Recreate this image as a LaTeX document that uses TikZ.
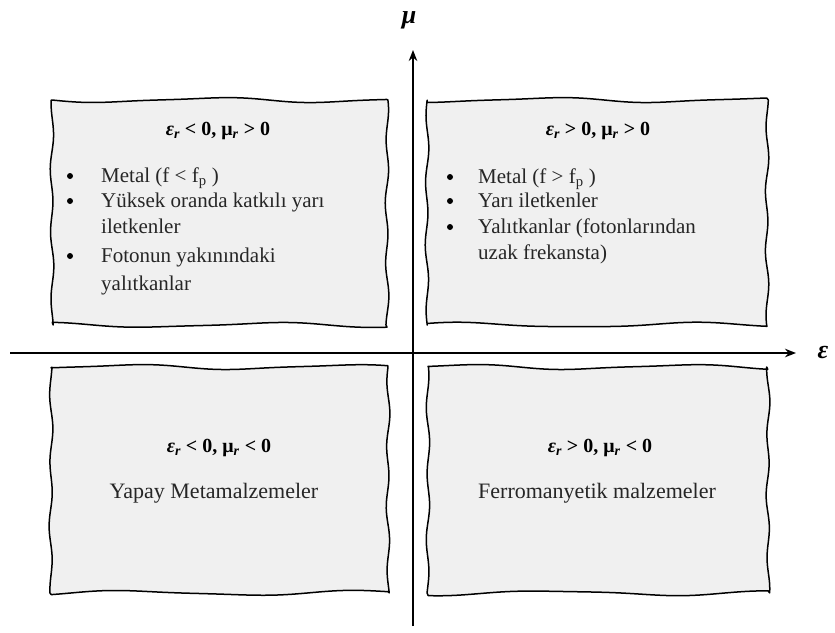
\documentclass[tikz,border=0pt]{standalone}
\usepackage{fontspec}
\setmainfont{Liberation Serif}
\usetikzlibrary{arrows.meta}
\definecolor{boxgray}{HTML}{F0F0F0}
\definecolor{txt}{HTML}{262626}
% wavy box: #1 x1, #2 y1, #3 x2, #4 y2, #5 phase
\newcommand\wavyquad[5]{%
  \draw[boxline]
    plot[domain=0:1,samples=60,smooth] ({#1+(#3-#1)*\x},{#2+2.2*sin(560*\x+#5)+0.6*sin(1100*\x+2*#5)})
    -- plot[domain=0:1,samples=60,smooth] ({#3+1.4*sin(1300*\x+#5+40)+0.5*sin(500*\x)},{#2+(#4-#2)*\x})
    -- plot[domain=0:1,samples=60,smooth] ({#3-(#3-#1)*\x},{#4+2.2*sin(520*\x+#5+90)+0.6*sin(1000*\x+#5)})
    -- plot[domain=0:1,samples=60,smooth] ({#1+1.4*sin(1250*\x+#5+120)+0.5*sin(450*\x+#5)},{#4-(#4-#2)*\x})
    -- cycle;}
\begin{document}
\begin{tikzpicture}[x=1pt,y=-1pt,
  boxline/.style={draw=black, line width=1.5pt, fill=boxgray, line join=round},
  ttl/.style={anchor=base, inner sep=0pt, font=\fontsize{20}{24}\selectfont\bfseries},
  ln/.style={anchor=base west, inner sep=0pt, text=txt, font=\fontsize{21}{25}\selectfont},
  ctr/.style={anchor=base, inner sep=0pt, text=txt, font=\fontsize{22}{26}\selectfont},
  bul/.style={circle, fill=black, inner sep=0pt, minimum size=6pt},
  axis/.style={line width=1.8pt, -{Stealth[length=11pt,width=8.5pt]}},
  albl/.style={inner sep=0pt, font=\fontsize{26}{30}\selectfont\bfseries\itshape}
]
\useasboundingbox (0,0) rectangle (835,632);

% boxes
\wavyquad{52}{100}{387}{325}{0}
\wavyquad{427}{100}{767}{325}{70}
\wavyquad{51}{367}{388}{593}{140}
\wavyquad{428}{367}{768}{593}{210}

% axes
\coordinate (xs) at (10,353);
\coordinate (xe) at (796,353);
\coordinate (ys) at (413,626);
\coordinate (ye) at (413,50);
\draw[axis] (xs) -- (xe);
\draw[axis] (ys) -- (ye);
\node[albl] (mu) at (409,20) {μ};
\node[albl] (eps) at (823,352) {ε};

% top-left
\node[ttl] (tlt) at (218,135) {\textit{ε\textsubscript{r}} < 0, μ\textsubscript{\textit{r}} > 0};
\node[bul] (tlb1) at (70,176) {};
\node[ln] (tl1) at (101,182) {Metal (f < f\textsubscript{p} )};
\node[bul] (tlb2) at (70,201) {};
\node[ln] (tl2) at (101,207) {Yüksek oranda katkılı yarı};
\node[ln] (tl3) at (101,233) {iletkenler};
\node[bul] (tlb3) at (70,256) {};
\node[ln] (tl4) at (101,262) {Fotonun yakınındaki};
\node[ln] (tl5) at (101,290) {yalıtkanlar};

% top-right
\node[ttl] (trt) at (598,135) {\textit{ε\textsubscript{r}} > 0, μ\textsubscript{\textit{r}} > 0};
\node[bul] (trb1) at (450,177) {};
\node[ln] (tr1) at (478,183) {Metal (f > f\textsubscript{p} )};
\node[bul] (trb2) at (450,201) {};
\node[ln] (tr2) at (478,207) {Yarı iletkenler};
\node[bul] (trb3) at (450,227) {};
\node[ln] (tr3) at (478,233) {Yalıtkanlar (fotonlarından};
\node[ln] (tr4) at (478,259) {uzak frekansta)};

% bottom-left
\node[ttl] (blt) at (219,452) {\textit{ε\textsubscript{r}} < 0, μ\textsubscript{\textit{r}} < 0};
\node[ctr] (bl1) at (214,498) {Yapay Metamalzemeler};

% bottom-right
\node[ttl] (brt) at (600,452) {\textit{ε\textsubscript{r}} > 0, μ\textsubscript{\textit{r}} < 0};
\node[ctr] (br1) at (597,498) {Ferromanyetik malzemeler};
\end{tikzpicture}
\end{document}
